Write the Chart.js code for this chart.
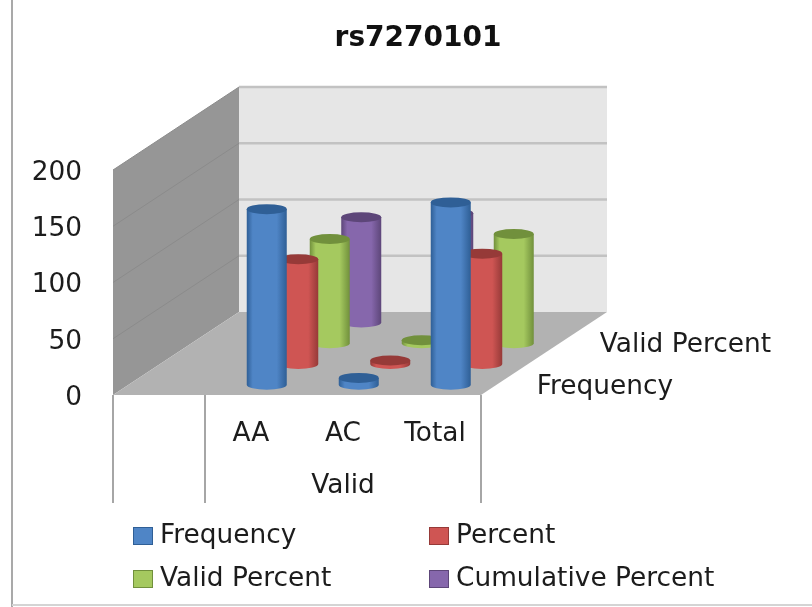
<!DOCTYPE html>
<html>
<head>
<meta charset="utf-8">
<title>rs7270101</title>
<script src="https://cdn.jsdelivr.net/npm/chart.js"></script>
<style>
html, body { margin: 0; padding: 0; background: #fff; }
canvas { display: block; filter: blur(0.7px); }
</style>
</head>
<body>
<canvas id="chart" width="812" height="607"></canvas>
<script>
// values
var categories = ['', 'AA', 'AC', 'Total'];
var groupLabel = 'Valid';
var frequency = [null, 156, 6, 162];
var percent = [null, 93, 3, 98];
var validPercent = [null, 92.5, 2.5, 97];
var cumulativePercent = [null, 93.5, 97, null];
var yTicks = [0, 50, 100, 150, 200];
var depthLabels = ['Frequency', null, 'Valid Percent', null];

var FONT = '"DejaVu Sans"';
var DEPTH_X = 31.5, DEPTH_Y = 20.75, SERIES_COUNT = 4, CAP_RY = 5;

function offsetX(i) { return (i + 0.5) * DEPTH_X; }
function offsetY(i) { return (i + 0.5) * DEPTH_Y; }

// bar element drawn as a cylinder, pushed back along the series axis
class CylinderBar extends Chart.BarElement {
  draw(ctx) {
    var i = this.seriesIndex;
    var w = this.width;
    var cx = this.x + offsetX(i);
    var left = cx - w / 2, right = cx + w / 2;
    var top = this.y - offsetY(i), bottom = this.base - offsetY(i);
    var o = this.options;

    var grad = ctx.createLinearGradient(left, 0, right, 0);
    grad.addColorStop(0, o.borderColor);
    grad.addColorStop(0.15, o.backgroundColor);
    grad.addColorStop(0.75, o.backgroundColor);
    grad.addColorStop(1, o.borderColor);

    ctx.save();
    ctx.fillStyle = grad;
    ctx.beginPath();
    ctx.moveTo(left, top);
    ctx.lineTo(left, bottom);
    ctx.ellipse(cx, bottom, w / 2, CAP_RY, 0, Math.PI, 0, true);
    ctx.lineTo(right, top);
    ctx.closePath();
    ctx.fill();
    ctx.fillStyle = o.borderColor;
    ctx.beginPath();
    ctx.ellipse(cx, top, w / 2, CAP_RY, 0, 0, Math.PI * 2);
    ctx.fill();
    ctx.restore();
  }
}
CylinderBar.id = 'cylinderBar';
CylinderBar.defaults = Chart.BarElement.defaults;

class CylinderController extends Chart.BarController {
  draw() {
    var index = this.index;
    this._cachedMeta.data.forEach(function (el) { el.seriesIndex = index; });
    super.draw();
  }
}
CylinderController.id = 'cylinder';
CylinderController.defaults = Object.assign({}, Chart.BarController.defaults, { dataElementType: 'cylinderBar' });
CylinderController.overrides = Chart.BarController.overrides;

Chart.register(CylinderBar, CylinderController);

// walls, floor, axis dividers, page frame
var scenePlugin = {
  id: 'scene',
  beforeDatasetsDraw: function (chart) {
    var ctx = chart.ctx, x = chart.scales.x, y = chart.scales.y;
    var dx = DEPTH_X * SERIES_COUNT, dy = DEPTH_Y * SERIES_COUNT;
    var l = x.left, r = x.right, t = y.top, b = y.bottom;

    ctx.save();
    ctx.strokeStyle = '#a9a9a9';
    ctx.lineWidth = 2;
    ctx.beginPath();
    ctx.moveTo(12, 0); ctx.lineTo(12, 607);
    ctx.stroke();
    ctx.strokeStyle = '#d4d4d4';
    ctx.beginPath();
    ctx.moveTo(12, 605); ctx.lineTo(812, 605);
    ctx.stroke();

    // back wall
    ctx.fillStyle = '#e6e6e6';
    ctx.fillRect(l + dx, t - dy, r - l, b - t);
    // side wall
    ctx.fillStyle = '#969696';
    ctx.beginPath();
    ctx.moveTo(l, t); ctx.lineTo(l + dx, t - dy); ctx.lineTo(l + dx, b - dy); ctx.lineTo(l, b);
    ctx.closePath();
    ctx.fill();
    // floor
    ctx.fillStyle = '#b2b2b2';
    ctx.beginPath();
    ctx.moveTo(l, b); ctx.lineTo(r, b); ctx.lineTo(r + dx, b - dy); ctx.lineTo(l + dx, b - dy);
    ctx.closePath();
    ctx.fill();

    yTicks.forEach(function (v) {
      var py = y.getPixelForValue(v);
      if (v > 0) {
        ctx.strokeStyle = '#8b8b8b';
        ctx.lineWidth = 1;
        ctx.beginPath();
        ctx.moveTo(l, py); ctx.lineTo(l + dx, py - dy);
        ctx.stroke();
        ctx.strokeStyle = '#c2c2c2';
        ctx.lineWidth = 2.5;
        ctx.beginPath();
        ctx.moveTo(l + dx, py - dy); ctx.lineTo(r + dx, py - dy);
        ctx.stroke();
      }
    });

    // multi level category dividers
    var slot = (r - l) / categories.length;
    ctx.strokeStyle = '#a6a6a6';
    ctx.lineWidth = 2;
    [l, l + slot, r].forEach(function (px) {
      ctx.beginPath();
      ctx.moveTo(px, b); ctx.lineTo(px, 503);
      ctx.stroke();
    });
    ctx.restore();
  },
  afterDraw: function (chart) {
    var ctx = chart.ctx, x = chart.scales.x, y = chart.scales.y;
    ctx.save();
    ctx.fillStyle = '#1c1c1c';
    ctx.font = '26.4px ' + FONT;
    ctx.textBaseline = 'middle';

    ctx.textAlign = 'center';
    ctx.fillText(groupLabel, x.getPixelForValue(2), 486);

    // series axis labels
    ctx.textAlign = 'left';
    depthLabels.forEach(function (label, i) {
      if (label) ctx.fillText(label, x.right + offsetX(i) + 40, y.bottom - offsetY(i) + 2.5);
    });

    // two column legend
    var columns = [133, 429], rows = [536, 579];
    chart.data.datasets.forEach(function (ds, i) {
      var px = columns[i % 2], py = rows[Math.floor(i / 2)];
      ctx.fillStyle = ds.backgroundColor;
      ctx.fillRect(px, py - 9, 20, 18);
      ctx.strokeStyle = ds.borderColor;
      ctx.lineWidth = 1;
      ctx.strokeRect(px + 0.5, py - 8.5, 19, 17);
      ctx.fillStyle = '#1c1c1c';
      ctx.fillText(ds.label, px + 27, py);
    });
    ctx.restore();
  }
};

new Chart(document.getElementById('chart'), {
  type: 'cylinder',
  plugins: [scenePlugin],
  data: {
    labels: categories,
    datasets: [
      { label: 'Frequency', data: frequency, backgroundColor: '#4f85c6', borderColor: '#2f5f96', clip: false },
      { label: 'Percent', data: percent, backgroundColor: '#cf5553', borderColor: '#963a38', clip: false },
      { label: 'Valid Percent', data: validPercent, backgroundColor: '#a5c95f', borderColor: '#71903c', clip: false },
      { label: 'Cumulative Percent', data: cumulativePercent, backgroundColor: '#8667ac', borderColor: '#5d4679', clip: false }
    ]
  },
  options: {
    responsive: false,
    animation: false,
    events: [],
    grouped: false,
    barThickness: 40,
    layout: { padding: { left: 24, right: 0, top: 0, bottom: 0 } },
    plugins: {
      legend: { display: false },
      tooltip: { enabled: false },
      title: {
        display: true,
        text: 'rs7270101',
        color: '#111',
        font: { family: FONT, size: 28, weight: 'bold', lineHeight: 1.2 },
        padding: { top: 22, bottom: 114.4 }
      }
    },
    scales: {
      x: {
        type: 'category',
        grid: { display: false },
        border: { display: false },
        ticks: {
          color: '#1c1c1c',
          font: { family: FONT, size: 26.4 },
          padding: 15,
          autoSkip: false,
          maxRotation: 0
        },
        afterFit: function (scale) { scale.height = 212; }
      },
      y: {
        min: 0,
        max: 200,
        grid: { display: false },
        border: { display: false },
        ticks: {
          stepSize: 50,
          color: '#1c1c1c',
          font: { family: FONT, size: 26.4 },
          padding: 23,
          labelOffset: 3
        },
        afterFit: function (scale) { scale.width = 89; }
      },
      // reserves the empty band on the right where the 3D depth goes
      depthBand: {
        position: 'right',
        grid: { display: false },
        border: { display: false },
        ticks: { display: false },
        afterFit: function (scale) { scale.width = 331; }
      }
    }
  }
});
</script>
</body>
</html>
